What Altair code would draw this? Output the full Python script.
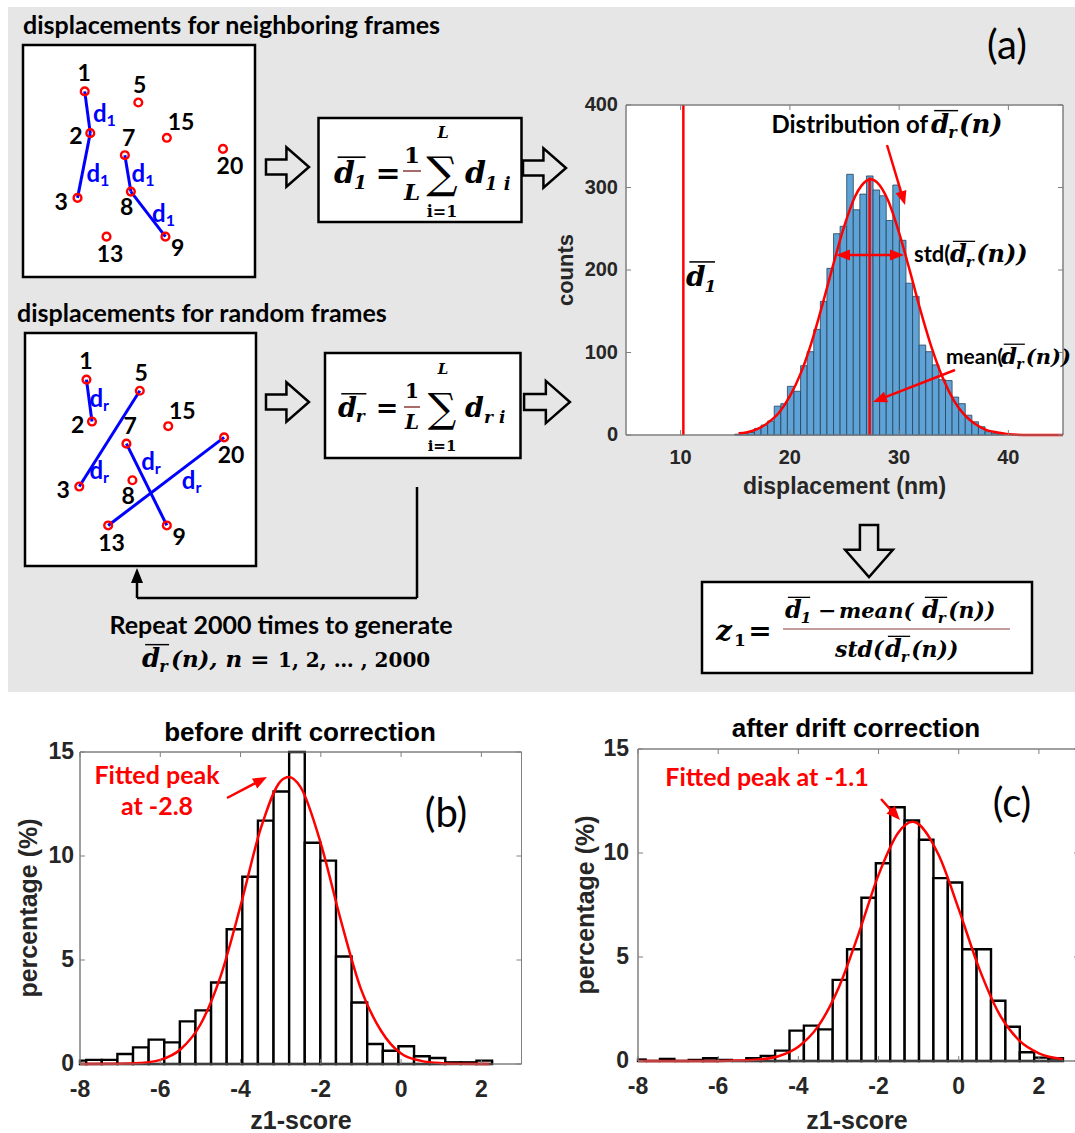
import math
import altair as alt
import pandas as pd

W, H = 1075, 1133
SANS = "Lato"
AXF = "Liberation Sans"
MATH = "DejaVu Serif"
GRAY_BG = "#e6e6e6"
AXC = "#262626"
FRAME = "#808080"
RED = "#ff0000"
BLUE = "#0000ff"
BAR_BLUE = "#5fa2d5"

# ---------------- data ----------------
# (a) histogram of the mean displacement of random frames
A_BIN_START = 14.95
A_BIN_WIDTH = 0.603
A_COUNTS = [1, 2, 3, 8, 12, 17, 35, 38, 59, 53, 84, 101, 128, 162, 202, 244, 253,
            316, 273, 292, 314, 297, 290, 260, 303, 236, 184, 168, 109, 101, 85, 67,
            66, 46, 38, 24, 16, 10, 4, 2, 1]
A_FIT_X = [15.3, 16, 17, 18, 19, 20, 21, 22, 23, 24, 25, 26, 27, 27.4, 28, 29, 30,
           31, 32, 33, 34, 35, 36, 37, 38, 39, 40, 42, 45]
A_FIT_Y = [2, 3, 7, 15, 27, 47, 75, 113, 159, 208, 254, 290, 308, 310, 306, 284, 245,
           198, 149, 105, 69, 42, 24, 13, 6, 3, 1, 0, 0]
D1_VALUE = 10.25
DR_MEAN = 27.3
DR_MEAN_TOP = 312
A_XTICKS = [10, 20, 30, 40]
A_YTICKS = [0, 100, 200, 300, 400]

# (b) before drift correction
B_BIN_START = -8.235
B_BIN_WIDTH = 0.389
B_PCT = [0.16, 0.2, 0.2, 0.48, 0.8, 1.17, 1.04, 2.05, 2.58, 3.92, 6.48, 9.0, 11.7,
         13.1, 15.0, 10.64, 9.78, 5.17, 2.96, 0.96, 0.64, 0.85, 0.37, 0.29, 0.08,
         0.08, 0.16]
B_FIT_X = [-8, -7, -6.5, -6, -5.5, -5, -4.5, -4, -3.5, -3, -2.8, -2.5, -2, -1.5, -1,
           -0.5, 0, 0.5, 1, 1.5, 2.2]
B_FIT_Y = [0, 0.01, 0.05, 0.2, 0.7, 1.9, 4.2, 7.6, 11.3, 13.6, 13.8, 13.3, 10.6, 6.9,
           3.6, 1.6, 0.5, 0.15, 0.04, 0.01, 0]

# (c) after drift correction
C_BIN_START = -8.17
C_BIN_WIDTH = 0.359
C_PCT = [0.07, 0, 0.1, 0, 0.05, 0.13, 0.05, 0, 0.13, 0.24, 0.5, 1.46, 1.7, 1.52,
         3.9, 5.37, 7.85, 9.51, 12.2, 11.56, 10.64, 8.79, 8.58, 5.37, 5.37, 2.9,
         1.65, 0.42, 0.16, 0.13]
C_FIT_X = [-8, -7, -6, -5.5, -5, -4.5, -4, -3.5, -3, -2.5, -2, -1.5, -1.15, -0.5, 0,
           0.5, 1, 1.5, 2, 2.6]
C_FIT_Y = [0, 0, 0, 0.02, 0.07, 0.23, 0.69, 1.69, 3.5, 6.1, 8.95, 11.0, 11.5, 9.9,
           7.3, 4.5, 2.3, 1.0, 0.37, 0.09]
Z_XTICKS = [-8, -6, -4, -2, 0, 2]
Z_YTICKS = [0, 5, 10, 15]

# schematic: localisations in a frame (percent of the box)
DOT_ID = ["1", "5", "2", "15", "7", "20", "3", "8", "9", "13"]
DOT_X = [26.6, 49.7, 29.0, 62.0, 43.9, 86.2, 23.5, 46.5, 61.4, 36.0]
DOT_Y = [20.0, 24.8, 38.0, 40.0, 47.5, 44.8, 65.9, 63.2, 82.6, 82.6]
LAB_X = [26.4, 50.3, 22.8, 68.1, 45.5, 89.2, 16.5, 44.7, 66.7, 37.5]
LAB_Y = [12.6, 17.8, 39.7, 33.7, 40.5, 52.8, 68.0, 70.4, 88.0, 90.5]
NEIGHBOR_PAIRS = [("1", "2"), ("2", "3"), ("7", "8"), ("8", "9")]
RANDOM_PAIRS = [("1", "2"), ("5", "3"), ("7", "9"), ("13", "20")]
D1_LAB_X = [34.7, 31.9, 51.4, 60.2]
D1_LAB_Y = [30.2, 56.0, 56.0, 73.3]
DR_LAB_X = [32.5, 32.5, 54.9, 72.5]
DR_LAB_Y = [28.8, 59.5, 55.9, 63.8]

# ---------------- layout (pixels) ----------------
A_X, A_Y = (626, 1063), (435, 105)
B_X, B_Y = (80, 521.5), (1064, 752)
C_X, C_Y = (638, 1079), (1061, 749)
BOX1 = (23, 45, 255, 277)
BOX2 = (25, 333, 256, 566)

DUMMY = pd.DataFrame({"a": [0]})
TRI = "M1,0L-1,-0.8L-1,0.8Z"
HOLLOW = "M-1,-0.35L-0.05,-0.35L-0.05,-0.92L1,0L-0.05,0.92L-0.05,0.35L-1,0.35Z"


def T(x, y, s, size=20, font=SANS, weight="bold", style="normal", color="black",
      align="left", baseline="alphabetic", angle=None):
    kw = dict(text=s, fontSize=size, font=font, fontWeight=weight, fontStyle=style,
              color=color, align=align, baseline=baseline)
    if angle is not None:
        kw["angle"] = angle
    return alt.Chart(DUMMY).mark_text(**kw).encode(x=alt.value(x), y=alt.value(y))


def R(x1, y1, x2, y2, color="black", w=2.0):
    return alt.Chart(DUMMY).mark_rule(color=color, strokeWidth=w).encode(
        x=alt.value(x1), y=alt.value(y1), x2=alt.value(x2), y2=alt.value(y2))


def BOX(x1, y1, x2, y2, fill="white", stroke="black", w=2.5):
    return alt.Chart(DUMMY).mark_rect(fill=fill, stroke=stroke, strokeWidth=w).encode(
        x=alt.value(x1), x2=alt.value(x2), y=alt.value(y1), y2=alt.value(y2))


def SYM(x, y, path, size, angle=0, color="black", filled=False, w=2.5):
    kw = dict(shape=path, size=size, angle=angle % 360, opacity=1)
    if filled:
        kw.update(filled=True, fill=color, strokeWidth=0)
    else:
        kw.update(filled=False, stroke=color, strokeWidth=w)
    return alt.Chart(DUMMY).mark_point(**kw).encode(x=alt.value(x), y=alt.value(y))


def ARROW(x1, y1, x2, y2, color=RED, w=2.5, head=14):
    dx, dy = x2 - x1, y2 - y1
    L = math.hypot(dx, dy)
    ux, uy = dx / L, dy / L
    hx, hy = x2 - ux * head / 2, y2 - uy * head / 2
    ang = math.degrees(math.atan2(dy, dx))
    return [R(x1, y1, hx, hy, color, w), SYM(hx, hy, TRI, head * head, ang, color, True)]


def DBAR(x, y, size, sub, tail="", color="black", tail_size=None):
    """italic d with an overline and a subscript, optional tail text."""
    out = [T(x, y, "d", size, MATH, "bold", "italic", color)]
    sx = x + 0.66 * size
    ss = round(size * 0.62)
    out.append(T(sx, y + 0.2 * size, sub, ss, MATH, "bold", "italic", color))
    sw = 0.62 * ss * len(sub)
    out.append(R(x + 0.12 * size, y - 0.86 * size, sx + sw, y - 0.86 * size, color,
                 max(1.2, size / 18)))
    if tail:
        out.append(T(sx + sw + 1, y, tail, tail_size or size, MATH, "bold", "italic", color))
    return out


layers = []

# ---------------- panel (a) background and schematic ----------------
layers.append(BOX(8, 7, W, 692, fill=GRAY_BG, stroke=GRAY_BG, w=0))
layers.append(T(23, 34, "displacements for neighboring frames", 25))
layers.append(T(17, 322, "displacements for random frames", 25))
layers.append(BOX(*BOX1))
layers.append(BOX(*BOX2))

dots = pd.DataFrame({"id": DOT_ID, "x": DOT_X, "y": DOT_Y, "lx": LAB_X, "ly": LAB_Y})
pos = {i: (x, y) for i, x, y in zip(DOT_ID, DOT_X, DOT_Y)}


def frame_layer(box, pairs, lab_x, lab_y, sub):
    xs = alt.Scale(domain=[0, 100], range=[box[0], box[2]], nice=False, zero=False)
    ys = alt.Scale(domain=[0, 100], range=[box[1], box[3]], nice=False, zero=False)
    seg = pd.DataFrame({"x": [pos[a][0] for a, b in pairs], "y": [pos[a][1] for a, b in pairs],
                        "x2": [pos[b][0] for a, b in pairs], "y2": [pos[b][1] for a, b in pairs]})
    dl = pd.DataFrame({"x": lab_x, "y": lab_y})
    lines = alt.Chart(seg).mark_rule(color=BLUE, strokeWidth=3).encode(
        x=alt.X("x:Q", scale=xs, axis=None), y=alt.Y("y:Q", scale=ys, axis=None),
        x2="x2:Q", y2="y2:Q")
    pts = alt.Chart(dots).mark_point(shape="circle", size=60, filled=False, color=RED,
                                      strokeWidth=2.4, opacity=1).encode(
        x=alt.X("x:Q", scale=xs, axis=None), y=alt.Y("y:Q", scale=ys, axis=None))
    labs = alt.Chart(dots).mark_text(font=SANS, fontWeight="bold", fontSize=23,
                                     color="black", align="center", baseline="middle").encode(
        x=alt.X("lx:Q", scale=xs, axis=None), y=alt.Y("ly:Q", scale=ys, axis=None), text="id:N")
    dmain = alt.Chart(dl).mark_text(text="d", font=SANS, fontWeight="bold", fontSize=24,
                                    color=BLUE, align="right", baseline="middle", dx=3).encode(
        x=alt.X("x:Q", scale=xs, axis=None), y=alt.Y("y:Q", scale=ys, axis=None))
    dsub = alt.Chart(dl).mark_text(text=sub, font=SANS, fontWeight="bold", fontSize=16,
                                   color=BLUE, align="left", baseline="middle", dx=3, dy=6).encode(
        x=alt.X("x:Q", scale=xs, axis=None), y=alt.Y("y:Q", scale=ys, axis=None))
    return alt.layer(lines, pts, labs, dmain, dsub)


layers.append(frame_layer(BOX1, NEIGHBOR_PAIRS, D1_LAB_X, D1_LAB_Y, "1"))
layers.append(frame_layer(BOX2, RANDOM_PAIRS, DR_LAB_X, DR_LAB_Y, "r"))

# hollow arrows
layers.append(SYM(287.5, 167, HOLLOW, 1850))
layers.append(SYM(544.5, 168, HOLLOW, 1850))
layers.append(SYM(287.5, 402, HOLLOW, 1850))
layers.append(SYM(547, 402, HOLLOW, 2100))
layers.append(SYM(869, 551, HOLLOW, 2700, angle=90))

# formula box 1
layers.append(BOX(318.5, 118, 521.5, 222))
layers += DBAR(334, 183, 30, "1")
layers.append(T(388, 183, "=", 30, MATH, align="center"))
layers.append(T(412, 163, "1", 23, MATH, align="center"))
layers.append(R(403, 171, 421, 171, "#8b3a3a", 1.5))
layers.append(T(412, 200, "L", 23, MATH, style="italic", align="center"))
layers.append(T(442, 175, "\u2211", 44, MATH, weight="normal", align="center", baseline="middle"))
layers.append(T(443, 138, "L", 16, MATH, style="italic", align="center"))
layers.append(T(442, 217, "i=1", 16, MATH, align="center"))
layers.append(T(465, 183, "d", 30, MATH, style="italic"))
layers.append(T(485, 190, "1 i", 18, MATH, style="italic"))

# formula box 2
layers.append(BOX(325, 353, 520.5, 458))
layers += DBAR(338, 417, 27, "r")
layers.append(T(387, 417, "=", 27, MATH, align="center"))
layers.append(T(412, 398, "1", 20, MATH, align="center"))
layers.append(R(404, 407, 420, 407, "#8b3a3a", 1.5))
layers.append(T(412, 429, "L", 20, MATH, style="italic", align="center"))
layers.append(T(442, 410, "\u2211", 40, MATH, weight="normal", align="center", baseline="middle"))
layers.append(T(443, 374, "L", 15, MATH, style="italic", align="center"))
layers.append(T(442, 451, "i=1", 15, MATH, align="center"))
layers.append(T(465, 417, "d", 27, MATH, style="italic"))
layers.append(T(484, 423, "r i", 17, MATH, style="italic"))

# feedback loop
layers.append(R(417, 487, 417, 598, "black", 2.5))
layers.append(R(417, 598, 137, 598, "black", 2.5))
layers.append(R(137, 598, 137, 580, "black", 2.5))
layers.append(SYM(137, 575.5, TRI, 225, 270, "black", True))
layers.append(T(281, 634, "Repeat 2000 times to generate", 25, align="center"))
layers += DBAR(142, 667, 26, "r")
layers.append(T(171, 667, "(n), n = ", 23, MATH, style="italic"))
layers.append(T(278, 667, "1, 2, \u2026 , 2000", 20, MATH))

layers.append(T(1007, 47, "(a)", 40, SANS, weight="normal", align="center", baseline="middle"))


# ---------------- axis helpers (labels drawn through the scales) ----------------
def ticks_layers(xs, ys, xr, yr, xt, yt):
    tx = pd.DataFrame({"t": xt})
    ty = pd.DataFrame({"t": yt})
    out = []
    for (a, b) in [(yr[0], yr[0] - 5), (yr[1], yr[1] + 5)]:
        out.append(alt.Chart(tx).mark_rule(color=FRAME, strokeWidth=1).encode(
            x=alt.X("t:Q", scale=xs, axis=None), y=alt.value(a), y2=alt.value(b)))
    for (a, b) in [(xr[0], xr[0] + 5), (xr[1], xr[1] - 5)]:
        out.append(alt.Chart(ty).mark_rule(color=FRAME, strokeWidth=1).encode(
            y=alt.Y("t:Q", scale=ys, axis=None), x=alt.value(a), x2=alt.value(b)))
    return out


def tick_labels(xs, ys, xt, yt, xlab_y, ylab_x, size):
    tx = pd.DataFrame({"t": xt, "lab": [str(v) for v in xt]})
    ty = pd.DataFrame({"t": yt, "lab": [str(v) for v in yt]})
    lx = alt.Chart(tx).mark_text(font=AXF, fontWeight="bold", fontSize=size, color=AXC,
                                 align="center", baseline="top").encode(
        x=alt.X("t:Q", scale=xs, axis=None), y=alt.value(xlab_y), text="lab:N")
    ly = alt.Chart(ty).mark_text(font=AXF, fontWeight="bold", fontSize=size, color=AXC,
                                 align="right", baseline="middle").encode(
        y=alt.Y("t:Q", scale=ys, axis=None), x=alt.value(ylab_x), text="lab:N")
    return [lx, ly]


# ---------------- panel (a) histogram ----------------
xa = alt.Scale(domain=[5, 45], range=list(A_X), nice=False, zero=False)
ya = alt.Scale(domain=[0, 400], range=list(A_Y), nice=False, zero=False)
n_a = len(A_COUNTS)
df_a = pd.DataFrame({"lo": [A_BIN_START + i * A_BIN_WIDTH for i in range(n_a)],
                     "hi": [A_BIN_START + (i + 1) * A_BIN_WIDTH for i in range(n_a)],
                     "count": A_COUNTS, "base": [0] * n_a})
bars_a = alt.Chart(df_a).mark_rect(fill=BAR_BLUE, stroke="#24425c", strokeWidth=0.8).encode(
    x=alt.X("lo:Q", scale=xa, axis=None), x2="hi:Q",
    y=alt.Y("count:Q", scale=ya, axis=None), y2="base:Q")
fit_a = alt.Chart(pd.DataFrame({"x": A_FIT_X, "y": A_FIT_Y})).mark_line(
    color=RED, strokeWidth=2.5, interpolate="monotone").encode(
    x=alt.X("x:Q", scale=xa, axis=None), y=alt.Y("y:Q", scale=ya, axis=None))
vl_a = alt.Chart(pd.DataFrame({"x": [D1_VALUE, DR_MEAN], "y0": [0, 0],
                               "y1": [400, DR_MEAN_TOP]})).mark_rule(
    color=RED, strokeWidth=2.5).encode(
    x=alt.X("x:Q", scale=xa, axis=None), y=alt.Y("y0:Q", scale=ya, axis=None), y2="y1:Q")
panel_a = alt.layer(BOX(A_X[0], A_Y[1], A_X[1], A_Y[0], "white", FRAME, 1),
                    bars_a, fit_a, vl_a,
                    *ticks_layers(xa, ya, A_X, A_Y, A_XTICKS, A_YTICKS),
                    *tick_labels(xa, ya, A_XTICKS, A_YTICKS, 448, 618, 20),
                    BOX(A_X[0], A_Y[1], A_X[1], A_Y[0], "transparent", FRAME, 1))
layers.append(panel_a)
layers.append(T((A_X[0] + A_X[1]) / 2, 476, "displacement (nm)", 23, AXF, color=AXC,
                align="center", baseline="top"))
layers.append(T(566, (A_Y[0] + A_Y[1]) / 2, "counts", 22, AXF, color=AXC,
                align="center", baseline="middle", angle=270))

# annotations of (a)
layers.append(T(928, 133, "Distribution of", 24, align="right"))
layers += DBAR(931, 133, 26, "r", "(n)")
layers += ARROW(887, 145, 905, 205)
layers += ARROW(870, 255, 836, 255)
layers += ARROW(870, 255, 904, 255)
layers.append(T(914, 262, "std(", 22))
layers += DBAR(950, 262, 24, "r", "(n))")
layers += ARROW(955, 370, 873, 402)
layers.append(T(946, 364, "mean(", 21))
layers += DBAR(1001, 364, 23, "r", "(n))", tail_size=21)
layers += DBAR(686, 286, 28, "1")

# z1 formula
layers.append(BOX(702, 582, 1032, 673))
layers.append(T(716, 640, "z", 28, MATH, style="italic"))
layers.append(T(734, 646, "1", 17, MATH))
layers.append(T(760, 640, "=", 28, MATH, align="center"))
layers.append(R(783, 629, 1010, 629, "#8b3a3a", 1.2))
layers += DBAR(785, 618, 24, "1")
layers.append(T(818, 618, "\u2212", 22, MATH))
layers.append(T(839, 618, "mean(", 21, MATH, style="italic"))
layers += DBAR(922, 618, 24, "r", "(n))", tail_size=22)
layers.append(T(835, 657, "std(", 22, MATH, style="italic"))
layers += DBAR(885, 657, 24, "r", "(n))", tail_size=22)


# ---------------- panels (b) and (c) ----------------
def z_panel(start, width, pct, fx, fy, xr, yr, xlab_y, ylab_x):
    xs = alt.Scale(domain=[-8, 3], range=list(xr), nice=False, zero=False)
    ys = alt.Scale(domain=[0, 15], range=list(yr), nice=False, zero=False)
    n = len(pct)
    df = pd.DataFrame({"lo": [max(start + i * width, -8) for i in range(n)],
                       "hi": [start + (i + 1) * width for i in range(n)],
                       "pct": pct, "base": [0] * n})
    bars = alt.Chart(df).mark_rect(fill="white", stroke="black", strokeWidth=2.4).encode(
        x=alt.X("lo:Q", scale=xs, axis=None), x2="hi:Q",
        y=alt.Y("pct:Q", scale=ys, axis=None), y2="base:Q")
    fit = alt.Chart(pd.DataFrame({"x": fx, "y": fy})).mark_line(
        color=RED, strokeWidth=2.5, interpolate="monotone").encode(
        x=alt.X("x:Q", scale=xs, axis=None), y=alt.Y("y:Q", scale=ys, axis=None))
    return alt.layer(BOX(xr[0], yr[1], xr[1], yr[0], "white", FRAME, 1), bars, fit,
                     *ticks_layers(xs, ys, xr, yr, Z_XTICKS, Z_YTICKS),
                     *tick_labels(xs, ys, Z_XTICKS, Z_YTICKS, xlab_y, ylab_x, 23),
                     BOX(xr[0], yr[1], xr[1], yr[0], "transparent", FRAME, 1))


layers.append(z_panel(B_BIN_START, B_BIN_WIDTH, B_PCT, B_FIT_X, B_FIT_Y, B_X, B_Y, 1079, 74))
layers.append(z_panel(C_BIN_START, C_BIN_WIDTH, C_PCT, C_FIT_X, C_FIT_Y, C_X, C_Y, 1076, 629))
for xr, yr, tx, ty in [(B_X, B_Y, 301, 29), (C_X, C_Y, 857, 586)]:
    layers.append(T(tx, 1109, "z1-score", 25, AXF, color=AXC, align="center", baseline="top"))
    layers.append(T(ty, (yr[0] + yr[1]) / 2, "percentage (%)", 25, AXF, color=AXC,
                    align="center", baseline="middle", angle=270))

layers.append(T(300, 741, "before drift correction", 26, AXF, color="black", align="center"))
layers.append(T(856, 737, "after drift correction", 26, AXF, color="black", align="center"))
layers.append(T(157, 784, "Fitted peak", 25, color=RED, align="center"))
layers.append(T(157, 815, "at -2.8", 25, color=RED, align="center"))
layers += ARROW(227, 798, 267, 777)
layers.append(T(446, 815, "(b)", 40, SANS, weight="normal", align="center", baseline="middle"))
layers.append(T(767, 786, "Fitted peak at -1.1", 25, color=RED, align="center"))
layers += ARROW(881, 799, 900, 820)
layers.append(T(1012, 805, "(c)", 40, SANS, weight="normal", align="center", baseline="middle"))

chart = alt.layer(*layers).resolve_scale(x="independent", y="independent").properties(
    width=W, height=H, padding=0, background="white",
    autosize=alt.AutoSizeParams(type="none")
).configure_view(strokeWidth=0)

chart.save("out.html", embed_options={"renderer": "svg", "actions": False})
